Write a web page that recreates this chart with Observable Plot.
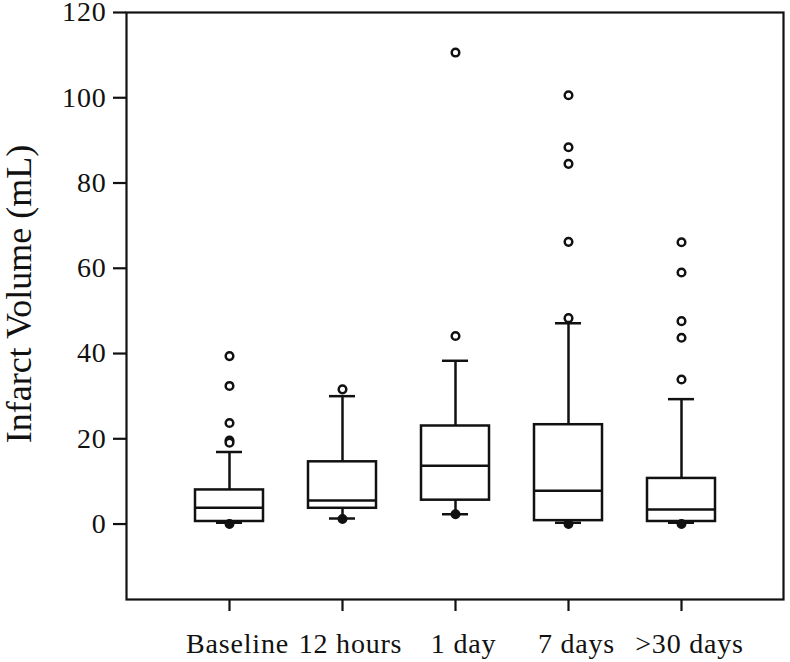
<!DOCTYPE html>
<html>
<head>
<meta charset="utf-8">
<script src="https://cdn.jsdelivr.net/npm/d3@7"></script>
<script src="https://cdn.jsdelivr.net/npm/@observablehq/plot@0.6"></script>
<style>
  html, body { margin: 0; padding: 0; background: #fff; }
  #chart svg { display: block; }
  #chart svg g[aria-label="x-axis tick label"] text { letter-spacing: 0.8px; }
  #chart svg g[aria-label="y-axis tick label"] text { letter-spacing: 0.8px; }
</style>
</head>
<body>
<div id="chart"></div>
<script>
// ---- data ----
const categories = ["Baseline", "12 hours", "1 day", "7 days", ">30 days"];
const q1 = [0.6, 3.7, 5.6, 0.8, 0.6];
const median = [3.8, 5.5, 13.7, 7.8, 3.4];
const q3 = [8.0, 14.6, 23.0, 23.3, 10.7];
const whiskerLow = [0.3, 1.3, 2.3, 0.3, 0.3];
const whiskerHigh = [16.9, 30.0, 38.3, 47.1, 29.3];

const outlierCategory = [
  "Baseline", "Baseline", "Baseline", "Baseline", "Baseline",
  "12 hours",
  "1 day", "1 day",
  "7 days", "7 days", "7 days", "7 days", "7 days",
  ">30 days", ">30 days", ">30 days", ">30 days", ">30 days"
];
const outlierValue = [
  39.4, 32.4, 23.7, 19.6, 19.1,
  31.6,
  44.1, 110.6,
  100.6, 88.4, 84.5, 66.2, 48.3,
  66.1, 59.0, 47.6, 43.7, 33.9
];
// clustered (overlapping) low outliers that render as solid blobs
const lowOutlierCategory = ["Baseline", "12 hours", "1 day", "7 days", ">30 days"];
const lowOutlierValue = [0.0, 1.2, 2.3, 0.0, 0.0];

const yTicks = [0, 20, 40, 60, 80, 100, 120];
const yLabel = "Infarct Volume (mL)";

// ---- tables built from the arrays ----
const stats = categories.map((c, i) => ({
  cat: c, q1: q1[i], median: median[i], q3: q3[i], lo: whiskerLow[i], hi: whiskerHigh[i]
}));
const outliers = outlierCategory.map((c, i) => ({cat: c, v: outlierValue[i]}));
const lowOutliers = lowOutlierCategory.map((c, i) => ({cat: c, v: lowOutlierValue[i]}));

const ink = "#111";
const lw = 2.5;

const chart = Plot.plot({
  width: 790,
  height: 662,
  marginLeft: 126,
  marginRight: 7,
  marginTop: 12,
  marginBottom: 63,
  style: {
    fontFamily: "'Liberation Serif', 'Times New Roman', serif",
    fontSize: "28px",
    background: "white",
    color: ink
  },
  x: {type: "band", domain: categories, paddingInner: 0.4, paddingOuter: 0.588, align: 0.5, label: null},
  y: {domain: [-17.7, 120], label: null},
  marks: [
    Plot.frame({stroke: ink, strokeWidth: 2.2}),
    Plot.axisY(yTicks, {tickSize: 13, tickPadding: 7, strokeWidth: 2.2, fontSize: 28, label: null}),
    // x tick marks (no labels)
    Plot.axisX({tickSize: 12, strokeWidth: 2.2, tickFormat: () => "", label: null}),
    // x tick labels, nudged right like the reference
    Plot.axisX({tickSize: 0, tickPadding: 34, fontSize: 28, dx: 8, label: null}),
    // whiskers
    Plot.ruleX(stats, {x: "cat", y1: "q3", y2: "hi", stroke: ink, strokeWidth: lw}),
    Plot.ruleX(stats, {x: "cat", y1: "lo", y2: "q1", stroke: ink, strokeWidth: lw}),
    // boxes
    Plot.barY(stats, {x: "cat", y1: "q1", y2: "q3", fill: "white", stroke: ink, strokeWidth: lw}),
    Plot.tickY(stats, {x: "cat", y: "median", stroke: ink, strokeWidth: lw}),
    // whisker caps
    Plot.tickY(stats, {x: "cat", y: "hi", stroke: ink, strokeWidth: lw, insetLeft: 21, insetRight: 21}),
    Plot.tickY(stats, {x: "cat", y: "lo", stroke: ink, strokeWidth: lw, insetLeft: 21, insetRight: 21}),
    // outliers
    Plot.dot(outliers, {x: "cat", y: "v", r: 3.8, stroke: ink, strokeWidth: 2.5, fill: "white"}),
    Plot.dot(lowOutliers, {x: "cat", y: "v", r: 4.2, stroke: ink, strokeWidth: 1.5, fill: ink}),
    // y-axis title
    Plot.text([yLabel], {
      frameAnchor: "left", rotate: -90, dx: -107, dy: -12,
      fontSize: 36, textAnchor: "middle", fill: ink
    })
  ]
});

document.getElementById("chart").appendChild(chart);
</script>
</body>
</html>
